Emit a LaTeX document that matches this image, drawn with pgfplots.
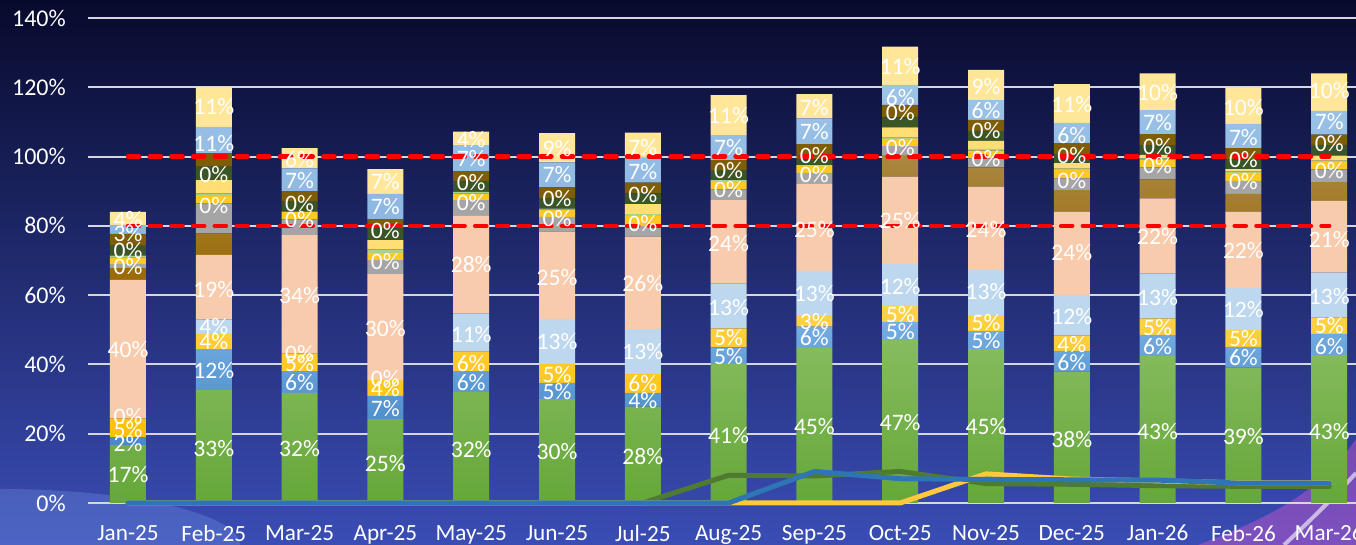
\documentclass[border=0pt]{standalone}
\usepackage{pgfplots}
\pgfplotsset{compat=1.18}
\usepackage{pgfplotstable}
\usepackage{fontspec}
\setmainfont{Carlito}

\definecolor{cG}{HTML}{70AD47}\definecolor{cGt}{HTML}{86BC5E}\definecolor{cGb}{HTML}{65A739}
\definecolor{cB}{HTML}{5B9BD5}\definecolor{cBt}{HTML}{74ADE0}\definecolor{cBb}{HTML}{4788C9}
\definecolor{cY}{HTML}{FFC000}\definecolor{cYt}{HTML}{FFD24A}
\definecolor{cLB}{HTML}{BDD7EE}
\definecolor{cP}{HTML}{F8CBAD}
\definecolor{cBRt}{HTML}{AA8743}\definecolor{cBRb}{HTML}{9A6A05}
\definecolor{cGR}{HTML}{A5A5A5}
\definecolor{cY2}{HTML}{FFC822}
\definecolor{cLG}{HTML}{A9D18E}
\definecolor{cPY}{HTML}{FFDF73}
\definecolor{cDG}{HTML}{3B5526}
\definecolor{cBN}{HTML}{7F5D05}
\definecolor{cLBt}{HTML}{9DC3E6}\definecolor{cLBb}{HTML}{8AB6E2}
\definecolor{cLY}{HTML}{FFE699}
\definecolor{lnG}{HTML}{4F7A32}
\definecolor{lnB}{HTML}{2E75B6}
\definecolor{lnY}{HTML}{FFC83D}
\definecolor{gridc}{HTML}{D4D6E2}
\definecolor{bgtop}{HTML}{080A2C}
\definecolor{bgmid}{HTML}{18227C}
\definecolor{bgbot}{HTML}{3A4DB5}
\definecolor{glow}{HTML}{7A9BE8}
\definecolor{swoosh}{HTML}{B455C8}

\pgfplotstableread{
x G B Y LB P BR GR Ytwo LG PY DG BN LBtwo LY
0 16.7 2.3 5.4 0 40.0 3.4 1.2 1.9 0.5 0 2.9 3.4 2.6 3.7
1 32.6 11.8 4.4 4.2 18.6 6.2 8.7 2.1 0.8 3.8 3.9 3.8 7.7 11.5
2 31.8 6.1 5.3 0 34.1 0 4.6 2.2 0 0 2.9 3.0 6.6 5.8
3 24.2 6.7 4.6 0 30.6 0 4.0 2.1 1.0 2.7 3.4 2.6 7.3 7.2
4 32.1 5.8 5.8 11.0 28.2 0 4.5 1.9 0.5 0 3.2 2.8 7.5 3.9
5 30.0 4.7 5.4 13.0 25.2 0 4.3 2.1 0.3 0 3.0 3.1 7.2 8.5
6 27.8 4.0 5.4 13.0 26.7 0 3.0 2.9 0.6 2.9 3.1 3.1 7.3 7.1
7 40.1 4.8 5.5 13.0 24.0 0 3.1 2.2 0.5 0 2.9 2.9 7.2 11.5
8 44.8 6.1 3.3 12.8 25.1 0 3.2 2.2 0 0 1.7 4.4 7.4 7.0
9 47.0 5.3 4.6 12.1 25.2 6.2 2.6 2.1 0.4 2.9 2.9 3.6 5.8 11.0
10 44.4 5.2 4.6 13.0 24.1 5.6 2.6 2.2 0.5 2.3 2.9 3.2 5.7 8.7
11 37.9 6.0 4.4 11.7 24.1 6.2 3.4 2.4 0.4 1.6 2.6 3.2 5.8 11.2
12 42.4 6.1 4.8 13.0 21.6 5.5 3.5 2.3 0.3 1.0 2.8 3.2 6.9 10.6
13 39.1 6.0 4.8 12.2 22.0 5.1 3.8 2.3 0.4 0.7 2.8 3.2 7.0 10.6
14 42.7 6.1 4.8 12.9 20.7 5.4 3.7 2.2 0.3 1.5 3.1 2.9 6.9 10.8
}\bars

\pgfplotstableread{
x g y b
0 0 0 0
1 0 0 0
2 0 0 0
3 0 0 0
4 0 0 0
5 0 0 0
6 0 0 0
7 8.0 0 0
8 7.8 0 9.1
9 9.1 0 7.0
10 5.6 8.4 6.8
11 5.4 6.9 6.7
12 5.0 6.4 6.6
13 4.8 5.8 5.7
14 4.8 5.8 5.7
}\lines

\pgfplotstableread{
x y v
0 8.1 17
0 17.2 2
0 21.1 5
0 24.9 0
0 44.2 40
0 68.2 0
0 73.0 0
0 77.8 3
0 81.7 4
1 15.8 33
1 38.2 12
1 46.6 4
1 50.9 4
1 61.7 19
1 86.0 0
1 94.7 0
1 103.8 11
1 114.4 11
2 15.8 32
2 34.7 6
2 40.3 5
2 43.2 0
2 60.0 34
2 81.9 0
2 86.5 0
2 93.2 7
2 99.2 6
3 11.5 25
3 27.3 7
3 33.1 4
3 36.0 0
3 50.4 30
3 69.6 0
3 78.6 0
3 85.7 7
3 92.7 7
4 15.5 32
4 34.8 6
4 40.3 6
4 48.7 11
4 68.7 28
4 86.7 0
4 92.4 0
4 99.5 7
4 104.8 4
5 14.8 30
5 32.3 5
5 37.2 5
5 46.6 13
5 65.1 25
5 82.2 0
5 87.9 0
5 94.7 7
5 102.4 9
6 13.4 28
6 29.7 4
6 34.5 6
6 43.7 13
6 63.4 26
6 80.7 0
6 88.9 0
6 95.6 7
6 102.7 7
7 19.6 41
7 42.4 5
7 47.8 5
7 56.5 13
7 74.9 24
7 90.5 0
7 95.9 0
7 102.7 7
7 111.7 11
8 22.0 45
8 47.8 6
8 52.5 3
8 60.5 13
8 79.0 25
8 94.9 0
8 100.4 0
8 107.2 7
8 114.2 7
9 23.2 47
9 49.6 5
9 54.5 5
9 62.4 12
9 81.5 25
9 102.7 0
9 112.6 0
9 117.1 6
9 126.1 11
10 22.0 45
10 47.0 5
10 52.0 5
10 61.0 13
10 78.8 24
10 99.5 0
10 107.6 0
10 113.4 6
10 120.3 9
11 18.2 38
11 40.5 6
11 45.8 4
11 53.8 12
11 72.2 24
11 93.2 0
11 100.4 0
11 106.2 6
11 114.9 11
12 20.6 43
12 45.3 6
12 50.7 5
12 59.4 13
12 76.9 22
12 97.3 0
12 103.0 0
12 109.8 7
12 118.4 10
13 19.1 39
13 42.0 6
13 47.5 5
13 55.9 12
13 73.0 22
13 92.7 0
13 99.2 0
13 105.5 7
13 114.2 10
14 20.6 43
14 45.3 6
14 51.1 5
14 59.7 13
14 76.1 21
14 96.1 0
14 103.8 0
14 110.0 7
14 119.0 10
}\labels

\pgfplotsset{myax/.style={
  scale only axis, width=634pt, height=242.5pt,
  xmin=-0.466, xmax=14.312, ymin=0, ymax=140,
  axis line style={draw=none}, tick style={draw=none},
}}

\begin{document}
\begin{tikzpicture}
% background
\shade[top color=bgtop, middle color=bgmid, bottom color=bgbot] (-44pt,-21pt) rectangle (634pt,251.5pt);
\fill[glow, opacity=0.30] (-44pt,-21pt) ellipse [x radius=120pt, y radius=28pt];
\fill[swoosh, opacity=0.55] (555pt,-21pt) .. controls (595pt,-6pt) and (618pt,8pt) .. (634pt,32pt) -- (634pt,-21pt) -- cycle;
\draw[white, opacity=0.6, line width=2pt] (598pt,-21pt) .. controls (612pt,-8pt) and (624pt,4pt) .. (634pt,15pt);

\begin{axis}[myax, ybar stacked, bar width=18pt,
  ymajorgrids, grid style={line width=1pt, color=gridc},
  ytick={0,20,40,60,80,100,120,140},
  yticklabels={0\%,20\%,40\%,60\%,80\%,100\%,120\%,140\%},
  xtick={0,...,14},
  xticklabels={Jan-25,Feb-25,Mar-25,Apr-25,May-25,Jun-25,Jul-25,Aug-25,Sep-25,Oct-25,Nov-25,Dec-25,Jan-26,Feb-26,Mar-26},
  yticklabel style={font=\fontsize{12}{14}\selectfont, text=white, xshift=-7.6pt},
  xticklabel style={font=\fontsize{11.6}{14}\selectfont, text=white, yshift=-7.5pt},
]
\addplot[draw=none, top color=cGt, bottom color=cGb] table[x=x,y=G]{\bars};
\addplot[draw=none, top color=cBt, bottom color=cBb] table[x=x,y=B]{\bars};
\addplot[draw=none, top color=cYt, bottom color=cY] table[x=x,y=Y]{\bars};
\addplot[draw=none, fill=cLB] table[x=x,y=LB]{\bars};
\addplot[draw=none, fill=cP] table[x=x,y=P]{\bars};
\addplot[draw=none, top color=cBRt, bottom color=cBRb] table[x=x,y=BR]{\bars};
\addplot[draw=none, fill=cGR] table[x=x,y=GR]{\bars};
\addplot[draw=none, fill=cY2] table[x=x,y=Ytwo]{\bars};
\addplot[draw=none, fill=cLG] table[x=x,y=LG]{\bars};
\addplot[draw=none, fill=cPY] table[x=x,y=PY]{\bars};
\addplot[draw=none, fill=cDG] table[x=x,y=DG]{\bars};
\addplot[draw=none, fill=cBN] table[x=x,y=BN]{\bars};
\addplot[draw=none, top color=cLBt, bottom color=cLBb] table[x=x,y=LBtwo]{\bars};
\addplot[draw=none, fill=cLY] table[x=x,y=LY]{\bars};
\end{axis}

\begin{axis}[myax, hide axis, clip=false]
\addplot[lnG, line width=2.5pt, line join=round, line cap=round, mark=none] table[x=x,y=g]{\lines};
\addplot[lnY, line width=2.5pt, line join=round, line cap=round, mark=none] table[x=x,y=y]{\lines};
\addplot[lnB, line width=2.5pt, line join=round, line cap=round, mark=none] table[x=x,y=b]{\lines};
\addplot[red, line width=2.2pt, dash pattern=on 5.6pt off 5.25pt, line cap=round, mark=none] coordinates {(0,80) (14,80)};
\addplot[red, line width=2.2pt, dash pattern=on 5.6pt off 5.25pt, line cap=round, mark=none] coordinates {(0,100) (14,100)};
\addplot[draw=none, mark=none, point meta=explicit symbolic,
  nodes near coords={\pgfplotspointmeta\%},
  every node near coord/.append style={font=\fontsize{11.8}{14}\selectfont, text=white, anchor=center, inner sep=0pt}]
  table[x=x,y=y,meta=v]{\labels};
\end{axis}
\pgfresetboundingbox
\path[use as bounding box] (-44pt,-21pt) rectangle (634pt,251.5pt);
\end{tikzpicture}
\end{document}
